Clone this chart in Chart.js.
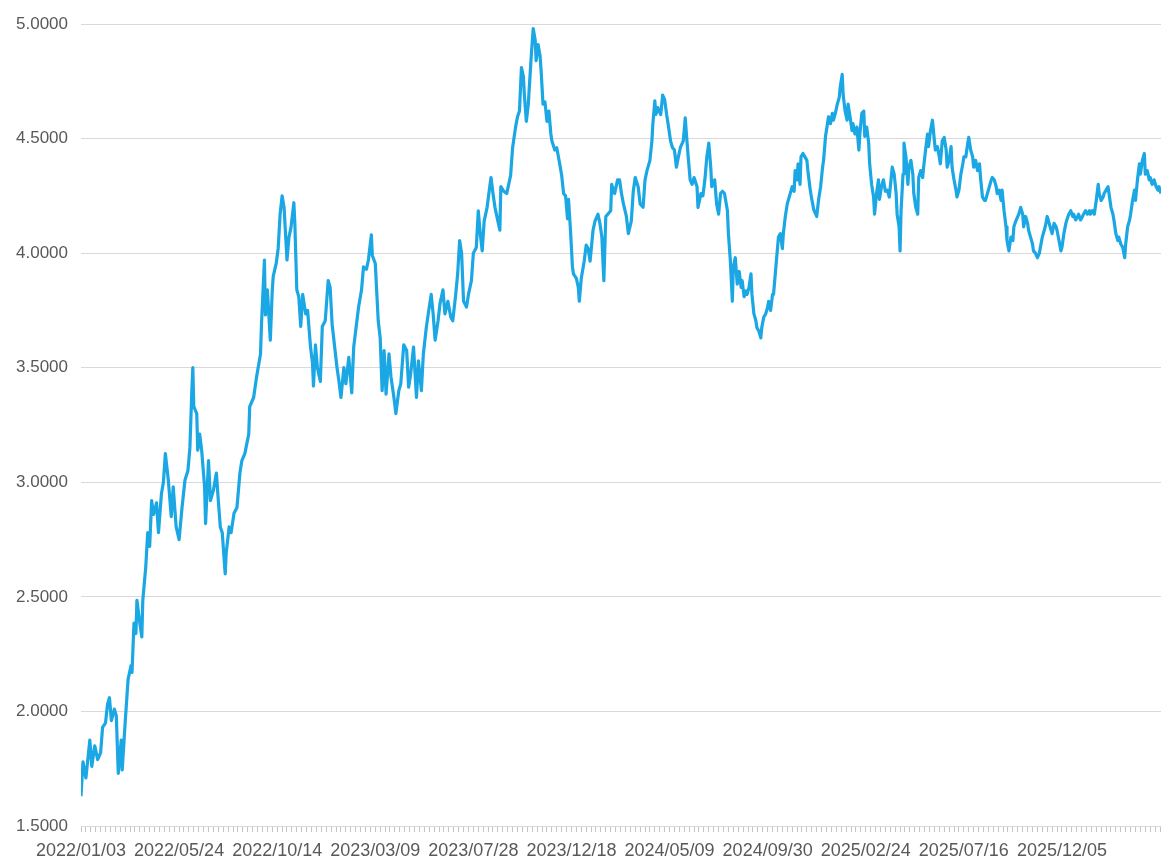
<!DOCTYPE html>
<html>
<head>
<meta charset="utf-8">
<title>Yield chart</title>
<script src="https://cdn.jsdelivr.net/npm/chart.js@4/dist/chart.umd.min.js"></script>
<style>
  html, body { margin: 0; padding: 0; background: #ffffff; }
  canvas { display: block; }
</style>
</head>
<body>
<canvas id="yieldChart" width="1161" height="865"></canvas>
<script>
// ===========================
// Data
// ===========================

// x axis labels, one every 100 trading days
const dateLabels = [
    '2022/01/03', '2022/05/24', '2022/10/14', '2023/03/09', '2023/07/28', '2023/12/18',
    '2024/05/09', '2024/09/30', '2025/02/24', '2025/07/16', '2025/12/05'
];

// y axis ticks
const yTicks = [1.5, 2.0, 2.5, 3.0, 3.5, 4.0, 4.5, 5.0];

// trading day index of each sampled point
const tradeDay = [
    0, 2, 5, 9, 11, 14, 17, 20, 22, 25,
    27, 29, 31, 34, 36, 38, 41, 42, 45, 48,
    51, 52, 54, 56, 57, 60, 62, 63, 66, 68,
    70, 72, 74, 77, 79, 82, 84, 86, 89, 92,
    94, 97, 100, 103, 106, 109, 111, 113, 114, 115,
    118, 119, 121, 123, 126, 127, 130, 132, 135, 138,
    140, 142, 144, 147, 148, 151, 153, 156, 159, 162,
    164, 167,
    171, 172, 176, 179, 183, 184, 187, 188, 190, 193,
    195, 196, 199, 201, 203, 205, 207, 210, 212, 214,
    217, 218, 220, 222, 224, 226, 229, 231, 234, 236,
    237, 239, 241, 244, 246, 249, 252, 254, 256, 259,
    261, 263, 265, 268, 270, 273, 276, 278, 280, 283,
    286, 288, 291, 293, 296, 297, 300, 303, 305, 307,
    309, 311, 314, 316, 319, 321, 324,
    326, 329, 332, 334, 336, 339, 342, 344, 347, 349,
    352, 354, 357, 359, 361, 364, 366, 369, 371, 374,
    377, 379, 382, 384, 386, 388, 390, 393, 395, 398,
    400, 403, 405, 407, 409, 411, 414, 417, 418, 420,
    422, 425, 427, 428, 431, 434, 436, 438, 440, 443,
    445, 447, 449, 451, 452, 454, 456, 459, 461, 463,
    464, 466, 468, 469, 471, 473, 475, 477, 479, 480,
    483, 485, 488, 490, 492,
    494, 496, 497, 499, 501, 502, 505, 507, 508, 510,
    513, 515, 517, 519, 522, 524, 527, 529, 531, 533,
    535, 537, 540, 541, 544, 547, 549, 551, 553, 556,
    558, 561, 563, 565, 568, 570, 573, 575, 577, 580,
    582, 583, 585, 586, 588, 591, 593, 595, 597, 599,
    601, 603, 605, 607, 609, 611, 614, 616, 617, 619,
    621, 623, 625, 628, 629, 632, 634, 636, 638, 640,
    642, 643, 646, 648, 650, 652, 654, 656,
    659, 660, 662, 664, 665, 667, 669, 671, 673, 674,
    676, 678, 679, 681, 683, 684, 686, 688, 689, 691,
    693, 694, 696, 698, 700, 701, 703, 705, 706, 708,
    710, 711, 713, 715, 716, 718, 720, 722, 723, 725,
    727, 728, 730, 731, 733, 734, 736, 738, 740, 741,
    743, 744, 745, 747, 749, 750, 752, 754, 756, 757,
    759, 761, 762, 764, 766, 767, 769, 771, 773, 774,
    776, 777, 779, 781, 782, 784, 786, 787, 789, 791,
    793, 794, 796, 798, 799, 801, 803, 804, 806, 808,
    809, 811, 813, 814, 816, 818, 820,
    822, 824, 826, 827, 829, 831, 832, 834, 835, 836,
    838, 839, 841, 843, 844, 846, 848, 849, 851, 853,
    854, 856, 858, 859, 861, 863, 864, 866, 868, 870,
    871, 873, 875, 876, 878, 880, 882, 883, 885, 887,
    888, 890, 892, 893, 895, 897, 899, 900, 902, 904,
    905, 907, 909, 910, 912, 914, 916, 917, 919, 921,
    922, 924, 926, 928, 929, 931, 933, 934, 936, 938,
    939, 941, 943, 944, 946, 948, 950, 951, 953, 955,
    956, 958,
    960, 961, 963, 965, 966, 968, 970, 971, 973, 975,
    977, 978, 980, 982, 983, 985, 987, 989, 990, 992,
    994, 995, 997, 999, 1000, 1002, 1004, 1005, 1007, 1009,
    1011, 1012, 1014, 1016, 1017, 1019, 1021, 1022, 1024, 1026,
    1028, 1029, 1031, 1033, 1035, 1037, 1038, 1040, 1042, 1043,
    1045, 1047, 1048, 1050, 1052, 1053, 1055, 1057, 1058, 1060,
    1062, 1064, 1065, 1067, 1069, 1070, 1072, 1074, 1075, 1077,
    1079, 1080, 1082, 1084, 1085, 1087, 1089, 1090, 1092, 1094,
    1096, 1098, 1099, 1101
];

// yield at each sampled point
const yieldPct = [
    1.63, 1.78, 1.71, 1.875, 1.76, 1.85, 1.79, 1.82, 1.93, 1.95,
    2.03, 2.06, 1.96, 2.01, 1.98, 1.73, 1.875, 1.745, 1.95, 2.14,
    2.20, 2.17, 2.385, 2.34, 2.485, 2.385, 2.325, 2.485, 2.63, 2.78,
    2.72, 2.92, 2.86, 2.91, 2.78, 2.95, 3.0, 3.125, 3.01, 2.85,
    2.98, 2.805, 2.75, 2.89, 3.01, 3.05, 3.15, 3.40, 3.50, 3.33,
    3.30, 3.14, 3.21, 3.14, 2.98, 2.82, 3.095, 2.92, 2.965, 3.04,
    2.92, 2.805, 2.78, 2.60, 2.69, 2.805, 2.78, 2.865, 2.89, 3.04,
    3.095, 3.125,
    3.21, 3.33, 3.37, 3.46, 3.56, 3.69, 3.97, 3.73, 3.84, 3.62,
    3.84, 3.90, 3.955, 4.02, 4.17, 4.25, 4.20, 3.97, 4.07, 4.11,
    4.22, 4.13, 3.84, 3.81, 3.68, 3.82, 3.735, 3.75, 3.59, 3.52,
    3.42, 3.60, 3.50, 3.44, 3.68, 3.705, 3.88, 3.85, 3.69, 3.575,
    3.50, 3.44, 3.37, 3.50, 3.43, 3.545, 3.39, 3.59, 3.66, 3.765,
    3.84, 3.94, 3.93, 3.97, 4.08, 3.99, 3.955, 3.705, 3.63, 3.40,
    3.575, 3.385, 3.56, 3.46, 3.37, 3.30, 3.40,
    3.43, 3.60, 3.575, 3.415, 3.47, 3.59, 3.37, 3.53, 3.40, 3.56,
    3.675, 3.735, 3.82, 3.735, 3.62, 3.705, 3.78, 3.84, 3.735, 3.79,
    3.72, 3.705, 3.82, 3.91, 4.055, 4.0, 3.79, 3.765, 3.82, 3.88,
    4.0, 4.025, 4.185, 4.085, 4.01, 4.14, 4.20, 4.30, 4.33, 4.26,
    4.20, 4.14, 4.10, 4.29, 4.27, 4.26, 4.30, 4.34, 4.46, 4.55,
    4.595, 4.62, 4.81, 4.77, 4.69, 4.575, 4.65, 4.86, 4.98, 4.93,
    4.84, 4.91, 4.86, 4.80, 4.65, 4.66, 4.575, 4.62, 4.52, 4.49,
    4.45, 4.46, 4.39, 4.34, 4.26,
    4.25, 4.15, 4.235, 4.10, 3.94, 3.91, 3.89, 3.85, 3.79, 3.89,
    3.965, 4.035, 4.02, 3.965, 4.10, 4.14, 4.17, 4.13, 4.07, 3.88,
    4.16, 4.17, 4.185, 4.30, 4.26, 4.32, 4.32, 4.26, 4.215, 4.16,
    4.085, 4.14, 4.27, 4.33, 4.29, 4.215, 4.20, 4.32, 4.36, 4.405,
    4.49, 4.565, 4.665, 4.605, 4.635, 4.605, 4.69, 4.67, 4.605, 4.55,
    4.49, 4.46, 4.45, 4.375, 4.42, 4.46, 4.49, 4.59, 4.53, 4.42,
    4.32, 4.30, 4.33, 4.29, 4.20, 4.26, 4.25, 4.32, 4.42, 4.48,
    4.375, 4.29, 4.32, 4.215, 4.17, 4.26, 4.27, 4.26,
    4.185, 4.085, 3.965, 3.79, 3.94, 3.98, 3.865, 3.92, 3.85, 3.88,
    3.81, 3.835, 3.82, 3.85, 3.91, 3.82, 3.735, 3.705, 3.675, 3.66,
    3.63, 3.675, 3.72, 3.735, 3.765, 3.79, 3.75, 3.82, 3.82, 3.92,
    4.02, 4.07, 4.085, 4.02, 4.085, 4.16, 4.215, 4.245, 4.26, 4.29,
    4.27, 4.36, 4.32, 4.39, 4.30, 4.42, 4.435, 4.42, 4.405, 4.36,
    4.29, 4.26, 4.235, 4.19, 4.17, 4.16, 4.235, 4.29, 4.375, 4.405,
    4.51, 4.565, 4.595, 4.565, 4.61, 4.58, 4.61, 4.65, 4.68, 4.725,
    4.78, 4.69, 4.62, 4.58, 4.65, 4.595, 4.535, 4.565, 4.52, 4.55,
    4.45, 4.52, 4.61, 4.62, 4.51, 4.55, 4.48, 4.39, 4.30, 4.245,
    4.17, 4.26, 4.32, 4.235, 4.29, 4.32, 4.27,
    4.275, 4.245, 4.33, 4.375, 4.345, 4.26, 4.17, 4.115, 4.01, 4.185,
    4.345, 4.48, 4.42, 4.30, 4.375, 4.405, 4.345, 4.26, 4.20, 4.17,
    4.33, 4.36, 4.33, 4.375, 4.45, 4.52, 4.465, 4.535, 4.58, 4.49,
    4.45, 4.465, 4.42, 4.39, 4.49, 4.505, 4.45, 4.375, 4.405, 4.465,
    4.375, 4.32, 4.275, 4.245, 4.275, 4.345, 4.39, 4.42, 4.42, 4.48,
    4.505, 4.45, 4.42, 4.375, 4.405, 4.36, 4.39, 4.33, 4.245, 4.23,
    4.23, 4.26, 4.29, 4.32, 4.33, 4.32, 4.29, 4.26, 4.275, 4.23,
    4.275, 4.185, 4.115, 4.055, 4.01, 4.07, 4.055, 4.115, 4.14, 4.16,
    4.17, 4.20,
    4.17, 4.115, 4.16, 4.13, 4.10, 4.07, 4.04, 4.01, 4.0, 3.98,
    4.0, 4.025, 4.07, 4.10, 4.115, 4.16, 4.13, 4.10, 4.085, 4.13,
    4.115, 4.10, 4.055, 4.01, 4.025, 4.085, 4.13, 4.145, 4.17, 4.185,
    4.16, 4.17, 4.145, 4.16, 4.17, 4.145, 4.16, 4.17, 4.185, 4.17,
    4.185, 4.17, 4.185, 4.17, 4.23, 4.30, 4.26, 4.23, 4.245, 4.26,
    4.275, 4.29, 4.26, 4.20, 4.17, 4.145, 4.085, 4.055, 4.07, 4.04,
    4.025, 3.98, 4.04, 4.115, 4.145, 4.17, 4.23, 4.275, 4.23, 4.32,
    4.39, 4.345, 4.405, 4.435, 4.345, 4.36, 4.32, 4.33, 4.30, 4.32,
    4.29, 4.275, 4.29, 4.26
];

const lastDay = 1101;
const LINE_COLOR = '#1AA7E4';
const GRID_COLOR = '#D9D9D9';
const TICK_COLOR = '#C4C4C4';
const TEXT_COLOR = '#595959';

const xFont = { family: '"Liberation Sans", Arial, sans-serif', size: 18 };
const yFont = { family: '"Liberation Sans", Arial, sans-serif', size: 17 };

// minor tick every 5 trading days, label every 100
const xTickDays = [];
for (let d = 0; d <= 1100; d += 5) xTickDays.push(d);

function initChart() {
    const ctx = document.getElementById('yieldChart');
    const points = tradeDay.map((d, i) => ({ x: d, y: yieldPct[i] }));

    new Chart(ctx, {
        type: 'line',
        data: {
            datasets: [{
                data: points,
                borderColor: LINE_COLOR,
                borderWidth: 3.2,
                pointRadius: 0,
                tension: 0,
                fill: false,
                borderJoinStyle: 'round'
            }]
        },
        options: {
            responsive: false,
            animation: false,
            devicePixelRatio: 1,
            layout: { padding: { top: 24, right: 0, bottom: 0, left: 0 } },
            plugins: {
                legend: { display: false },
                tooltip: { enabled: false }
            },
            scales: {
                x: {
                    type: 'linear',
                    min: 0,
                    max: lastDay,
                    afterBuildTicks: axis => {
                        axis.ticks = xTickDays.map(v => ({ value: v }));
                    },
                    afterFit: scale => {
                        scale.height = 39;
                        scale.paddingLeft = 0;
                        scale.paddingRight = 0;
                    },
                    ticks: {
                        autoSkip: false,
                        maxRotation: 0,
                        minRotation: 0,
                        padding: 8,
                        color: TEXT_COLOR,
                        font: xFont,
                        callback: v => (v % 100 === 0 && dateLabels[v / 100]) ? dateLabels[v / 100] : ''
                    },
                    grid: {
                        drawOnChartArea: false,
                        drawTicks: true,
                        tickLength: 6,
                        color: TICK_COLOR
                    },
                    border: { display: true, color: GRID_COLOR }
                },
                y: {
                    min: yTicks[0],
                    max: yTicks[yTicks.length - 1],
                    afterFit: scale => { scale.width = 81; },
                    afterBuildTicks: axis => {
                        axis.ticks = yTicks.map(v => ({ value: v }));
                    },
                    ticks: {
                        padding: 13,
                        color: TEXT_COLOR,
                        font: yFont,
                        callback: v => Number(v).toFixed(4)
                    },
                    grid: { color: GRID_COLOR, drawTicks: false },
                    border: { display: false }
                }
            }
        }
    });
}

initChart();
</script>
</body>
</html>
